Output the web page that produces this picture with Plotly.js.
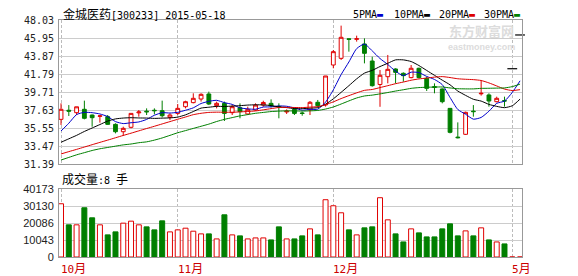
<!DOCTYPE html>
<html>
<head>
<meta charset="utf-8">
<script src="https://cdn.plot.ly/plotly-3.0.1.min.js"></script>
<style>html,body{margin:0;padding:0;background:#fff;}#chart{width:578px;height:276px;}</style>
</head>
<body>
<div id="chart"></div>
<script>
// ---- data ----
const openP  = [36.55,37.60,37.32,37.71,37.05,36.90,36.86,35.97,35.12,35.63,37.30,37.50,37.60,37.55,36.78,37.24,38.01,38.48,38.90,39.48,38.13,38.40,37.32,37.90,37.17,37.63,38.20,38.40,38.05,37.40,37.71,37.28,37.63,38.52,38.21,42.83,43.60,45.85,45.80,45.26,43.29,40.58,41.48,42.37,41.87,41.37,42.45,41.29,40.33,40.06,37.82,34.50,34.82,37.50,39.50,39.37,38.59,38.71,42.40,46.30];
const highP  = [38.40,38.20,38.00,38.71,37.10,37.05,37.05,36.09,35.70,37.24,37.63,37.82,37.82,38.71,37.24,38.32,38.70,39.56,39.56,39.75,38.59,38.60,38.20,38.40,38.01,38.40,38.70,38.86,38.40,37.70,37.90,37.44,38.67,38.79,41.56,44.56,47.38,45.88,46.22,45.91,43.79,42.25,43.99,42.45,41.98,42.83,42.52,41.48,40.71,40.13,37.82,36.20,37.44,38.20,41.10,39.56,39.17,39.17,42.40,46.30];
const lowP   = [35.90,36.94,37.05,36.55,35.70,36.17,35.90,34.93,34.63,35.51,36.86,37.05,37.13,36.78,36.47,37.05,37.82,38.40,38.60,38.20,37.82,36.36,37.05,36.67,37.05,37.55,38.01,37.94,36.67,37.17,37.05,36.97,37.05,38.00,38.02,42.45,43.41,44.37,45.53,43.02,40.33,38.00,40.71,40.71,40.90,41.29,41.29,39.83,39.56,38.40,34.93,34.35,34.74,36.86,39.29,38.02,38.52,38.02,42.40,46.30];
const closeP = [37.71,37.50,38.00,36.67,36.74,36.95,35.97,35.12,35.51,37.24,37.40,37.42,37.55,36.97,37.05,37.82,38.59,38.98,39.44,38.32,38.40,37.24,38.01,37.44,37.71,38.20,38.50,38.09,38.00,37.50,37.24,37.24,38.52,38.13,41.56,44.37,46.03,45.80,45.86,44.18,40.44,41.64,42.33,41.98,41.60,42.45,41.37,40.13,40.25,38.59,35.05,34.43,37.36,37.44,39.56,38.67,38.98,38.67,42.40,46.30];
const volume = [31460,19000,19000,29090,23150,19000,13060,14840,19990,21170,19000,17800,16030,21370,14840,16030,17020,15240,13650,13650,10690,24930,13060,12470,10690,11280,11280,10090,17800,10690,10690,12470,16620,13060,33840,30280,26120,16030,13060,17220,17810,35030,21960,13650,8900,16620,14250,11870,11870,16620,19590,12470,15430,12470,17220,10090,8900,7720,0,0];
const ma5  = [35.2,36.1,37.1,37.36,37.32,37.17,36.87,36.29,36.06,36.16,36.25,36.54,37.02,37.32,37.28,37.36,37.60,37.88,38.38,38.63,38.75,38.48,38.28,37.88,37.76,37.72,37.97,37.99,38.10,38.06,37.87,37.61,37.70,37.73,38.54,39.96,41.72,43.18,44.72,45.25,44.46,43.58,42.89,42.11,41.60,42.00,41.95,41.51,41.16,40.56,39.08,37.69,37.14,36.57,36.77,37.49,38.40,38.66,39.66,41.00];
const ma10 = [33.9,34.3,34.7,35.15,35.55,35.95,36.35,36.6,36.7,36.74,36.71,36.70,36.66,36.69,36.72,36.81,37.07,37.45,37.85,37.95,38.05,38.04,38.08,38.13,38.20,38.23,38.22,38.14,37.99,37.91,37.79,37.79,37.84,37.91,38.30,38.92,39.67,40.44,41.23,41.89,42.21,42.65,43.03,43.42,43.42,43.23,42.77,42.20,41.64,41.08,40.54,39.82,39.32,38.87,38.66,38.28,38.05,37.90,38.12,38.89];
const ma20 = [32.55,32.82,33.08,33.35,33.62,33.89,34.15,34.42,34.69,34.95,35.22,35.49,35.75,36.02,36.29,36.56,36.82,37.09,37.25,37.35,37.38,37.37,37.37,37.41,37.46,37.52,37.65,37.79,37.92,37.93,37.92,37.91,37.96,38.02,38.25,38.57,38.95,39.29,39.61,39.90,40.00,40.22,40.44,40.67,40.86,41.07,41.22,41.32,41.43,41.49,41.38,41.24,41.18,41.14,41.04,40.76,40.41,40.05,39.88,39.98];
const ma30 = [31.85,32.15,32.45,32.7,32.95,33.15,33.3,33.45,33.6,33.7,33.85,33.95,34.15,34.4,34.7,35.0,35.25,35.5,35.75,36.0,36.3,36.55,36.75,36.95,37.1,37.25,37.35,37.45,37.5,37.53,37.52,37.51,37.53,37.58,37.74,37.98,38.32,38.68,39.02,39.25,39.35,39.49,39.65,39.82,39.97,40.13,40.22,40.26,40.28,40.29,40.18,40.09,40.07,40.07,40.13,40.14,40.16,40.18,40.33,40.62];
const priceTicks = [31.39,33.47,35.55,37.63,39.71,41.79,43.87,45.95,48.03];
const volTicks = [0,10043,20086,30130,40173];
const monthIdx = [0,15,35,58];
const monthLabels = ['10','11','12','5'];
const maNames = ['5PMA','10PMA','20PMA','30PMA'];
const title = ['金城医药','[300233] 2015-05-18'];

// ---- styles ----
const RED = '#e00000', GREEN = '#007f00';
const maColors = ['#0000cc','#000000','#dd0000','#008000'];
const CJK = 'Noto Sans CJK SC';
const MONO = 'DejaVu Sans Mono';

const idx = volume.map((_, i) => i);
const normal = idx.filter(i => !(openP[i] === closeP[i] && highP[i] === lowP[i]));
const flat = idx.filter(i => openP[i] === closeP[i] && highP[i] === lowP[i]);
const isUp = idx.map(i => closeP[i] >= openP[i]);

const traces = [
  {type:'candlestick', x: normal, open: normal.map(i=>openP[i]), high: normal.map(i=>highP[i]),
   low: normal.map(i=>lowP[i]), close: normal.map(i=>closeP[i]), xaxis:'x', yaxis:'y',
   increasing:{line:{color:RED,width:1}, fillcolor:'#ffffff'},
   decreasing:{line:{color:GREEN,width:1}, fillcolor:GREEN},
   whiskerwidth:0, hoverinfo:'skip', showlegend:false},
  {type:'scatter', mode:'markers', x: flat, y: flat.map(i=>closeP[i]), xaxis:'x', yaxis:'y',
   marker:{symbol:'line-ew', size:7, line:{width:1.2, color:'#000'}}, hoverinfo:'skip', showlegend:false, cliponaxis:false},
];
[ma5, ma10, ma20, ma30].forEach((m, k) => traces.push({
  type:'scatter', mode:'lines', x: idx, y: m, xaxis:'x', yaxis:'y',
  line:{color: maColors[k], width:1, shape:'spline', smoothing:0.6}, hoverinfo:'skip', showlegend:false}));
traces.push({type:'bar', x: idx, y: volume, xaxis:'x2', yaxis:'y2', width:0.64,
  marker:{color: idx.map(i => isUp[i] ? '#ffffff' : GREEN),
          line:{color: idx.map(i => isUp[i] ? RED : GREEN), width:1}},
  hoverinfo:'skip', showlegend:false});

const W = 578, ML = 59, MR = 56, MT = 20, MB = 19;
const PW = W - ML - MR, PH = 276 - MT - MB;
const px = x => (x - ML) / PW;
const py = y => 1 - (y - MT) / PH;

const annotations = [];
annotations.push({xref:'paper', yref:'paper', x: px(61), y: py(13.5), xanchor:'left', yanchor:'middle', showarrow:false,
  text: `<span style="font-family:${CJK};font-size:12px">${title[0]}</span>${title[1]}`,
  font:{family:MONO, size:10, color:'#000'}});
const legX = [351, 392, 437, 482];
maNames.forEach((n, k) => annotations.push({xref:'paper', yref:'paper', x: px(legX[k]), y: py(14), xanchor:'left', yanchor:'middle', showarrow:false,
  text: `${n}<span style="color:${maColors[k]}">▬</span>`, font:{family:MONO, size:10, color:'#000'}}));
annotations.push({xref:'paper', yref:'paper', x: px(481), y: py(31), xanchor:'center', yanchor:'middle', showarrow:false,
  text:'<b>东方财富网</b>', font:{family:CJK, size:13, color:'#dcdcdc'}});
annotations.push({xref:'paper', yref:'paper', x: px(481), y: py(47), xanchor:'center', yanchor:'middle', showarrow:false,
  text:'<b>eastmoney.com</b>', font:{family:'Liberation Sans', size:9, color:'#dcdcdc'}});
annotations.push({xref:'paper', yref:'paper', x: px(60), y: py(178), xanchor:'left', yanchor:'middle', showarrow:false,
  text:`<span style="font-family:${CJK};font-size:12px">成交量</span>:8 <span style="font-family:${CJK};font-size:12px">手</span>`,
  font:{family:MONO, size:10, color:'#000'}});
monthIdx.forEach((m, k) => annotations.push({xref:'x2', yref:'paper', x: m, xshift:-2, y: py(267), xanchor:'left', yanchor:'middle', showarrow:false,
  text:`${monthLabels[k]}<span style="font-family:${CJK};font-size:12px">月</span>`, font:{family:MONO, size:11, color:'#cc0000'}}));

const xCommon = {range:[-0.26, 59.25], tickvals: monthIdx, showticklabels:false, ticks:'', showgrid:true,
  gridcolor:'#bbbbbb', griddash:'3px,2px', gridwidth:1, zeroline:false, showline:true, mirror:true, linecolor:'#999', linewidth:1, fixedrange:true};
const layout = {
  width: W, height: 276, margin:{l:ML, r:MR, t:MT, b:MB, pad:0},
  paper_bgcolor:'#fff', plot_bgcolor:'#fff', showlegend:false, dragmode:false,
  xaxis: Object.assign({}, xCommon, {anchor:'y', rangeslider:{visible:false}}),
  xaxis2: Object.assign({}, xCommon, {anchor:'y2'}),
  yaxis: {domain:[(257-164)/PH, 1], range:[31.39, 48.03], tickvals: priceTicks, ticktext: priceTicks.map(v=>v.toFixed(2)),
    tickfont:{family:MONO, size:10, color:'#222'}, ticks:'', gridcolor:'#cccccc', zeroline:false,
    showline:true, mirror:true, linecolor:'#999', linewidth:1, ticklabelstandoff:2},
  yaxis2: {domain:[0, (257-189)/PH], range:[0, 40173], tickvals: volTicks, ticktext: volTicks.map(String),
    tickfont:{family:'Liberation Sans', size:11, color:'#222'}, ticks:'', gridcolor:'#cccccc', zeroline:false,
    showline:true, mirror:true, linecolor:'#999', linewidth:1, ticklabelstandoff:2},
  annotations
};
Plotly.newPlot('chart', traces, layout, {staticPlot:true, displayModeBar:false});
</script>
</body>
</html>
